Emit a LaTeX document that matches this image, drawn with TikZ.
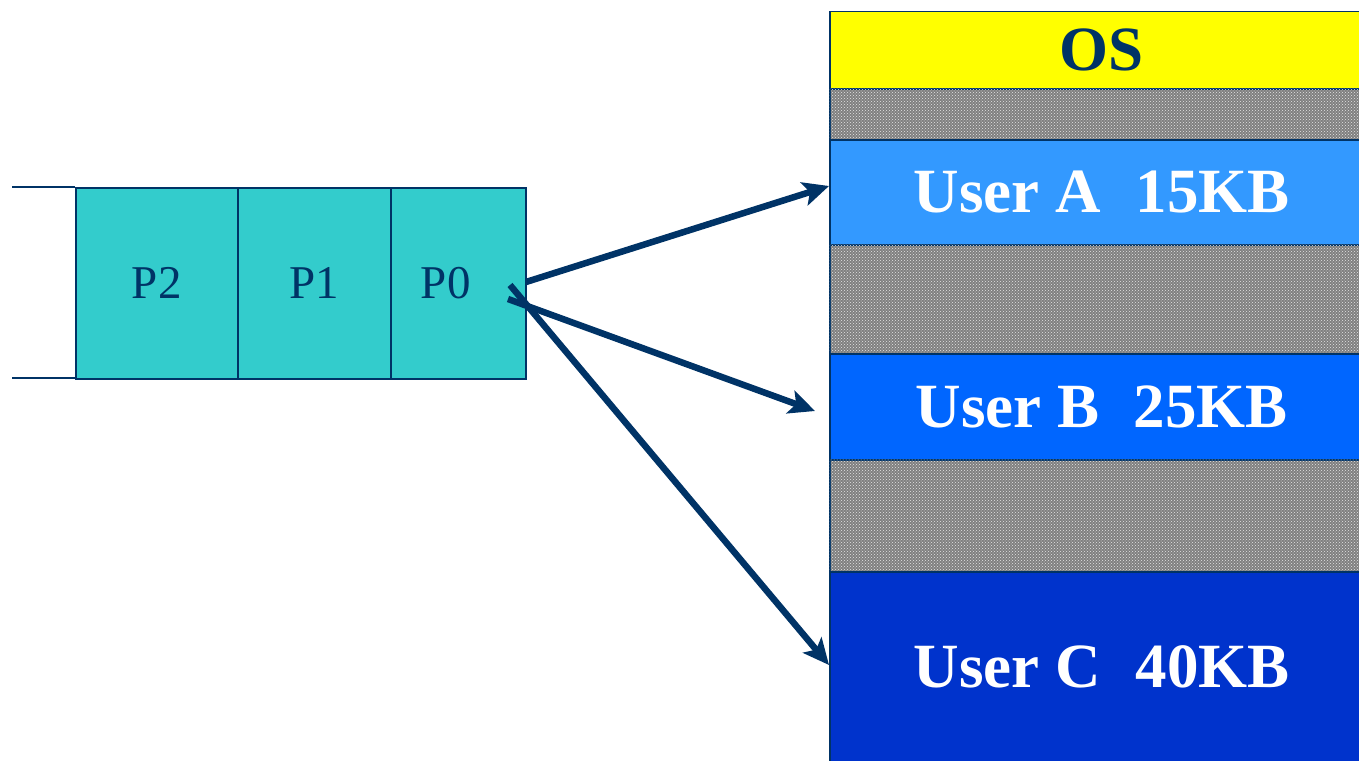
\documentclass[tikz,border=0pt]{standalone}
\usepackage{fontspec}
\setmainfont{Liberation Serif}
\usetikzlibrary{patterns,arrows.meta}
\definecolor{navy}{HTML}{003366}
\definecolor{qcyan}{HTML}{33CCCC}
\definecolor{osyellow}{HTML}{FFFF00}
\definecolor{ublueA}{HTML}{3399FF}
\definecolor{ublueB}{HTML}{0066FF}
\definecolor{ublueC}{HTML}{0033CC}
\definecolor{holegray}{HTML}{808080}
\begin{document}
\begin{tikzpicture}[x=1pt,y=-1pt,
  cell/.style={draw=navy,line width=1.5pt,fill=qcyan,inner sep=0pt,minimum height=191pt,
    text=navy,font=\fontsize{47}{47}\selectfont},
  memblk/.style={draw=navy,line width=1.5pt,inner sep=0pt,minimum width=544pt,
    font=\bfseries\fontsize{63}{63}\selectfont,text=white},
  hole/.style={memblk,fill=holegray,postaction={pattern=crosshatch dots,pattern color=white!80!holegray}},
  conn/.style={navy,line width=6.5pt,-{Stealth[length=26pt,width=24pt,inset=6pt]}}
]
\useasboundingbox (0,0) rectangle (1359,760);
% queue
\draw[navy,line width=2pt] (12,187) -- (75,187);
\draw[navy,line width=2pt] (12,378) -- (75,378);
\node[cell,minimum width=162pt,anchor=north west] (p2) at (75,187) {P2};
\node[cell,minimum width=153pt,anchor=north west] (p1) at (237,187) {P1};
\node[cell,minimum width=135pt,anchor=north west] (p0) at (390,187) {\hspace*{-25pt}P0};
% memory
\node[memblk,fill=osyellow,text=navy,minimum height=77pt,anchor=north west] (os) at (829,11) {OS};
\node[hole,minimum height=51pt,anchor=north west] (h1) at (829,88) {};
\node[memblk,fill=ublueA,minimum height=105pt,anchor=north west] (ua) at (829,139) {User A\hspace{0.55em}15KB};
\node[hole,minimum height=109pt,anchor=north west] (h2) at (829,244) {};
\node[memblk,fill=ublueB,minimum height=106pt,anchor=north west] (ub) at (829,353) {User B\hspace{0.55em}25KB};
\node[hole,minimum height=112pt,anchor=north west] (h3) at (829,459) {};
\node[memblk,fill=ublueC,minimum height=200pt,anchor=north west] (uc) at (829,571) {\raisebox{10pt}{User C\hspace{0.55em}40KB}};
% arrows
\coordinate (s1) at (526,282);
\coordinate (s2) at (508,299);
\coordinate (s3) at (510,285);
\coordinate (e1) at (829,186);
\coordinate (e2) at (815,411);
\draw[conn] (s1) -- (e1);
\draw[conn] (s2) -- (e2);
\draw[conn] (s3) -- (uc.west |- 0,665);
\end{tikzpicture}
\end{document}
